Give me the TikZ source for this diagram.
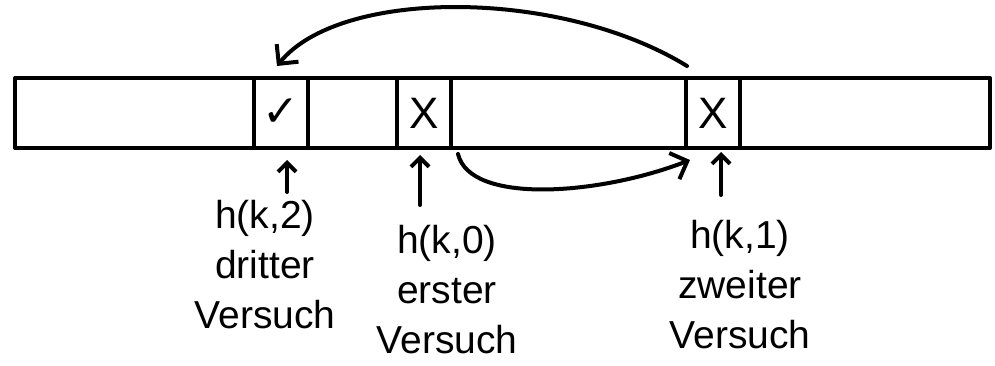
\documentclass[tikz,border=0pt]{standalone}
\usepackage{fontspec}
\setmainfont{Liberation Sans}
\newfontfamily\symfont{DejaVu Sans}
\usetikzlibrary{arrows.meta}
\begin{document}
\begin{tikzpicture}[x=1pt,y=-1pt,
  line width=4pt, line cap=round, line join=round,
  box/.style={draw, rectangle, inner sep=0pt, minimum height=70pt},
  cell/.style={box, minimum width=54pt, font=\fontsize{44}{44}\selectfont},
  tip/.style={-{Straight Barb[length=14pt,width=28pt,line width=4pt]}},
  small tip/.style={-{Straight Barb[length=9pt,width=18pt,line width=4pt]}},
  lbl/.style={align=center, inner sep=0pt, font=\fontsize{39}{50}\selectfont}]
\useasboundingbox (0,0) rectangle (995,366);
\node[box, minimum width=975pt] (arr) at (502.5,113) {};
\node[cell] (c2) at (281,113) {\symfont ✓};
\node[cell] (c0) at (424,113) {X};
\node[cell] (c1) at (713,113) {X};
% labels
\node[lbl, anchor=north] (l2) at (265,198) {h(k,2)\\dritter\\Versuch};
\node[lbl, anchor=north] (l0) at (447,223) {h(k,0)\\erster\\Versuch};
\node[lbl, anchor=north] (l1) at (740,218) {h(k,1)\\zweiter\\Versuch};
% small upward arrows
\coordinate (a2s) at (287,192);
\coordinate (a2e) at (287,160);
\coordinate (a0s) at (420,205);
\coordinate (a0e) at (420,155);
\coordinate (a1s) at (721,195);
\coordinate (a1e) at (721,152);
\draw[small tip] (a2s) -- (a2e);
\draw[small tip] (a0s) -- (a0e);
\draw[small tip] (a1s) -- (a1e);
% probe arrows
\coordinate (t0) at (687,66);
\coordinate (t1) at (277,66);
\draw[tip] (t0) .. controls (560,-12) and (340,-12) .. (t1);
\coordinate (b0) at (458,154);
\coordinate (b1) at (690,160);
\draw[tip] (b0) .. controls (470,205) and (600,195) .. (b1);
\end{tikzpicture}
\end{document}
